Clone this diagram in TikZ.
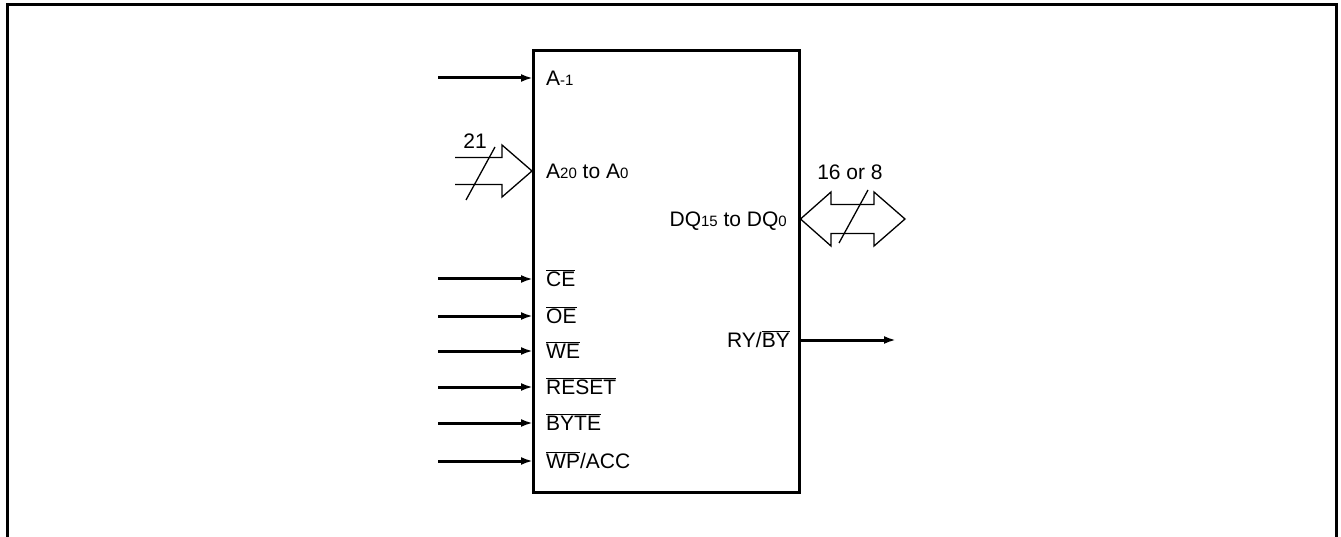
\documentclass[tikz,border=0pt]{standalone}
\usepackage{fontspec}
\setmainfont{Liberation Sans}
\usetikzlibrary{arrows.meta}
\newcommand{\ob}[1]{$\overline{\mbox{#1}}$}
\newcommand{\sbs}[1]{{\fontsize{15}{15}\selectfont #1}}
\begin{document}
\begin{tikzpicture}[x=1pt,y=-1pt,
  lbl/.style={font=\fontsize{21}{25}\selectfont, inner sep=0pt},
  sig/.style={line width=3pt, -{Latex[length=12pt,width=8pt]}},
  bus/.style={line width=1.3pt, line join=miter},
  chipbox/.style={draw, line width=3pt, minimum width=266.5pt, minimum height=441pt, inner sep=0pt}]
\useasboundingbox (0,0) rectangle (1341,537);
\draw[line width=3pt] (7,5) rectangle (1336,560);
\node[chipbox] (chip) at (666.25,271.5) {};
% input coordinates
\foreach \n/\y in {a1/78, ce/279, oe/316, we/351, rs/387, by/423, wp/461}{
  \coordinate (\n in) at (438,\y);
  \coordinate (\n pin) at (533,\y);
}
\foreach \n in {a1, ce, oe, we, rs, by, wp}{
  \draw[sig] (\n in) -- (\n pin);
}
% labels left
\node[lbl, anchor=base west] (la1) at (546,85.5) {A\sbs{-1}};
\node[lbl, anchor=base west] (la20) at (546,178.5) {A\sbs{20} to A\sbs{0}};
\node[lbl, anchor=base west] (lce) at (546,286.5) {\ob{CE}};
\node[lbl, anchor=base west] (loe) at (546,323.5) {\ob{OE}};
\node[lbl, anchor=base west] (lwe) at (546,358.5) {\ob{WE}};
\node[lbl, anchor=base west] (lrs) at (546,394.5) {\ob{RESET}};
\node[lbl, anchor=base west] (lby) at (546,430.5) {\ob{BYTE}};
\node[lbl, anchor=base west] (lwp) at (546,468.5) {\ob{WP}/ACC};
% right labels
\node[lbl, anchor=base east] (ldq) at (787,226.5) {DQ\sbs{15} to DQ\sbs{0}};
\node[lbl, anchor=base east] (lry) at (790,347.5) {RY/\ob{BY}};
% RY/BY output
\coordinate (rypin) at (800,340);
\coordinate (ryout) at (896,340);
\draw[sig] (rypin) -- (ryout);
% address bus arrow
\coordinate (abus) at (532,171);
\draw[bus] (455,157.5) -- (502,157.5) -- (502,145) -- (abus) -- (502,197) -- (502,184.5) -- (455,184.5);
\draw[line width=1.3pt] (466,200) -- (495,147);
\node[lbl, anchor=base] (l21) at (475,149) {21};
% data bus double arrow
\coordinate (dbus) at (800.5,219);
\draw[bus] (dbus) -- (831,192) -- (831,204.5) -- (874,204.5) -- (874,192) -- (905,219) -- (874,246) -- (874,233.5) -- (831,233.5) -- (831,246) -- cycle;
\draw[line width=1.3pt] (839,243) -- (868,190);
\node[lbl, anchor=base] (l16) at (850,180) {16 or 8};
\end{tikzpicture}
\end{document}
